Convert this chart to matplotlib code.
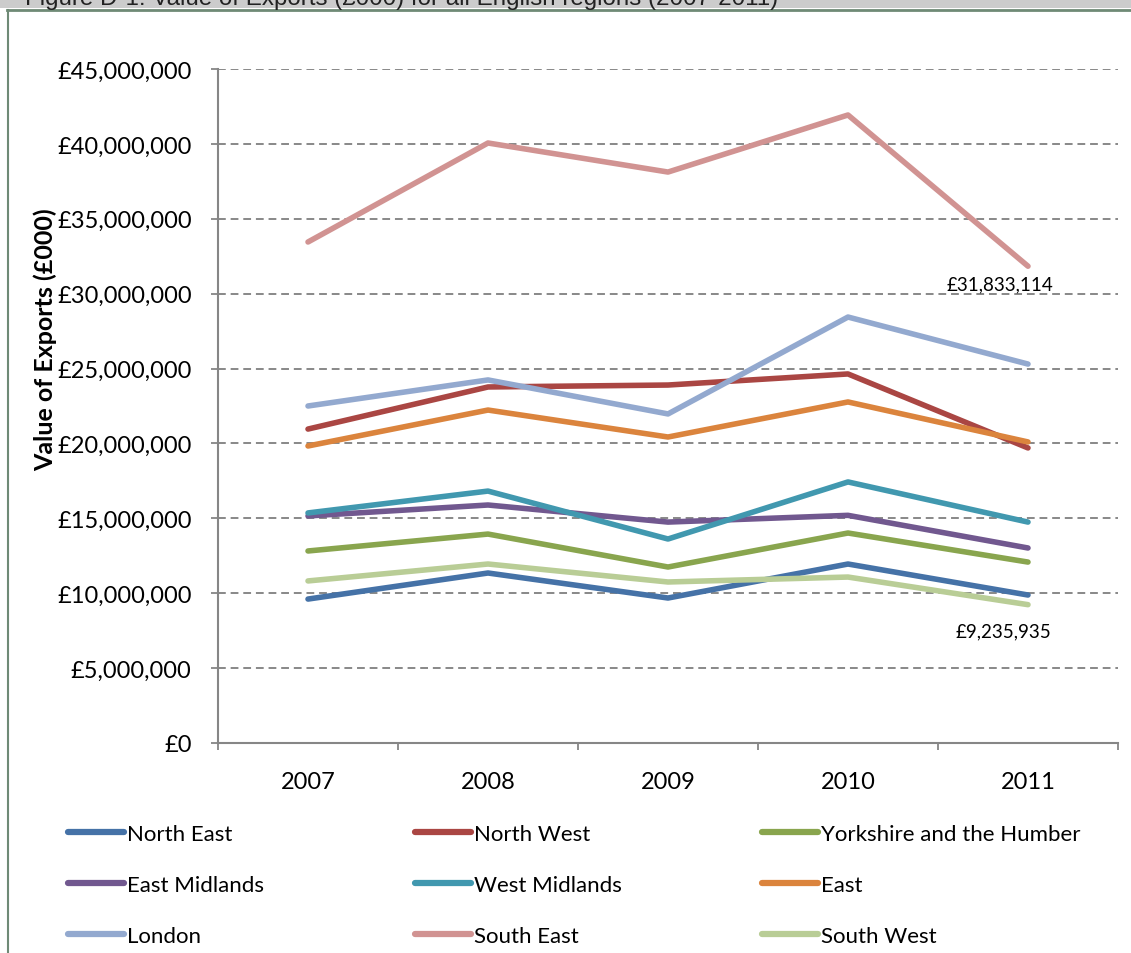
import matplotlib.pyplot as plt
from matplotlib.lines import Line2D
from matplotlib.patches import Rectangle
from matplotlib.ticker import FuncFormatter, FixedLocator

plt.rcParams['font.family'] = ['Lato', 'DejaVu Sans']

years = ['2007', '2008', '2009', '2010', '2011']
regions = ['North East', 'North West', 'Yorkshire and the Humber',
           'East Midlands', 'West Midlands', 'East',
           'London', 'South East', 'South West']

# value of exports, £000
north_east = [9610000, 11350000, 9680000, 11950000, 9880000]
north_west = [20960000, 23770000, 23900000, 24640000, 19700000]
yorkshire = [12820000, 13950000, 11750000, 14020000, 12080000]
east_midlands = [15160000, 15890000, 14750000, 15200000, 13020000]
west_midlands = [15360000, 16820000, 13620000, 17430000, 14750000]
east = [19830000, 22230000, 20430000, 22770000, 20100000]
london = [22500000, 24240000, 21970000, 28440000, 25300000]
south_east = [33450000, 40060000, 38120000, 41930000, 31833114]
south_west = [10820000, 11950000, 10750000, 11080000, 9235935]

series = [north_east, north_west, yorkshire, east_midlands, west_midlands,
          east, london, south_east, south_west]
colours = ['#4572A7', '#AA4643', '#89A54E', '#71588F', '#4198AF',
           '#DB843D', '#93A9CF', '#D19392', '#B9CD96']

fig = plt.figure(figsize=(11.31, 9.54), dpi=100)
W, H = 1131, 954

# grey caption strip and frame at the top
fig.patches.append(Rectangle((0, 1 - 9 / H), 1, 9 / H, transform=fig.transFigure,
                             facecolor='#cccccc', edgecolor='none', zorder=0))
fig.text(25 / W, 1 - 5 / H, 'Figure D-1: Value of Exports (£000) for all English regions (2007-2011)',
         family='Liberation Sans', fontsize=17.4, color='#222222', va='baseline', ha='left')
fig.lines.append(Line2D([7 / W, 1], [1 - 10.5 / H, 1 - 10.5 / H], transform=fig.transFigure,
                        color='#6f8a76', lw=2))
fig.lines.append(Line2D([7.5 / W, 7.5 / W], [0, 1 - 10.5 / H], transform=fig.transFigure,
                        color='#6f8a76', lw=1.5))

ax = fig.add_axes([218 / W, 1 - 744 / H, 900 / W, 674 / H])
x = list(range(len(years)))
lines = []
for vals, c, name in zip(series, colours, regions):
    ln, = ax.plot(x, vals, color=c, lw=4.0, solid_capstyle='round', label=name)
    lines.append(ln)

ax.set_xlim(-0.5, 4.5)
ax.set_ylim(0, 45000000)
ax.set_yticks(range(0, 45000001, 5000000))
ax.yaxis.set_major_formatter(FuncFormatter(lambda v, p: '£{:,.0f}'.format(v)))
ax.grid(axis='y', color='#888888', ls=(0, (4, 2.5)), lw=1.4)
ax.set_axisbelow(True)

ax.set_xticks(x)
ax.set_xticklabels(years)
ax.xaxis.set_minor_locator(FixedLocator([-0.5, 0.5, 1.5, 2.5, 3.5, 4.5]))
ax.tick_params(axis='x', which='major', length=0, pad=20, labelsize=17)
ax.tick_params(axis='x', which='minor', length=5, width=1.3, color='#868686', direction='out')
ax.tick_params(axis='y', length=5, width=1.3, color='#868686', pad=14, labelsize=17)

for s in ['top', 'right']:
    ax.spines[s].set_visible(False)
for s in ['left', 'bottom']:
    ax.spines[s].set_color('#868686')
    ax.spines[s].set_linewidth(1.5)

ax.set_ylabel('Value of Exports (£000)', fontsize=18, fontweight='bold')
ax.yaxis.set_label_coords(-0.179, 0.6)

# value labels on the 2011 end points
ax.annotate('£{:,}'.format(south_east[4]), (4, south_east[4]), xytext=(-20, -13),
            textcoords='offset points', ha='center', va='center', fontsize=13.5)
ax.annotate('£{:,}'.format(south_west[4]), (4, south_west[4]), xytext=(-18, -19),
            textcoords='offset points', ha='center', va='center', fontsize=13.5)

# legend: three columns, read across the rows
col_x = [68, 415, 762]
for i, cx in enumerate(col_x):
    hs = lines[i::3]
    leg = fig.legend(hs, [h.get_label() for h in hs], loc='upper left',
                     bbox_to_anchor=(cx / W, 1 - 825 / H), frameon=False, fontsize=16,
                     handlelength=2.5, handletextpad=0.15, labelspacing=1.39,
                     borderpad=0, borderaxespad=0)
    for h in leg.legend_handles:
        h.set_linewidth(4.5)

fig.savefig('out.png', dpi=100)
